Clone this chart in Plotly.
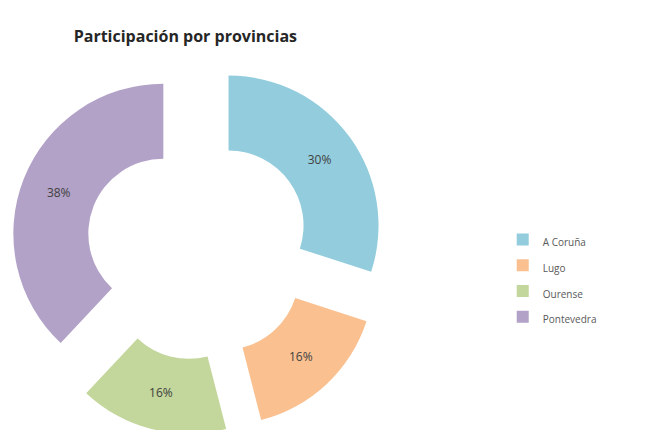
import plotly.graph_objects as go

labels = ["A Coruña", "Lugo", "Ourense", "Pontevedra"]
values = [30, 16, 16, 38]
colors = ["#93CDDD", "#FAC090", "#C3D69B", "#B3A2C7"]

legend_labels = ['<span style="font-size:10px">%s</span>' % l for l in labels]

fig = go.Figure(go.Pie(
    labels=legend_labels,
    values=values,
    hole=0.5,
    pull=[0.25, 0.25, 0.25, 0.25],
    sort=False,
    direction="clockwise",
    rotation=0,
    marker=dict(colors=colors, line=dict(width=0)),
    textinfo="percent",
    texttemplate="%{percent:.0%}",
    textposition="inside",
    insidetextorientation="horizontal",
    textfont=dict(family="Open Sans", size=12, color="#404040"),
    domain=dict(x=[0.004, 0.575], y=[0.007, 0.879]),
))

fig.update_layout(
    width=657, height=430,
    margin=dict(l=0, r=0, t=0, b=0),
    paper_bgcolor="white",
    plot_bgcolor="white",
    title=dict(text="<b>Participación por provincias</b>", x=0.27, xanchor="center",
               y=0.935, yanchor="middle",
               font=dict(family="Open Sans", size=16, color="#262626")),
    legend=dict(x=0.753, xanchor="left", y=0.372, yanchor="middle",
                font=dict(family="Open Sans", size=17.5, color="#595959")),
    showlegend=True,
)

fig.write_html("out.html")
